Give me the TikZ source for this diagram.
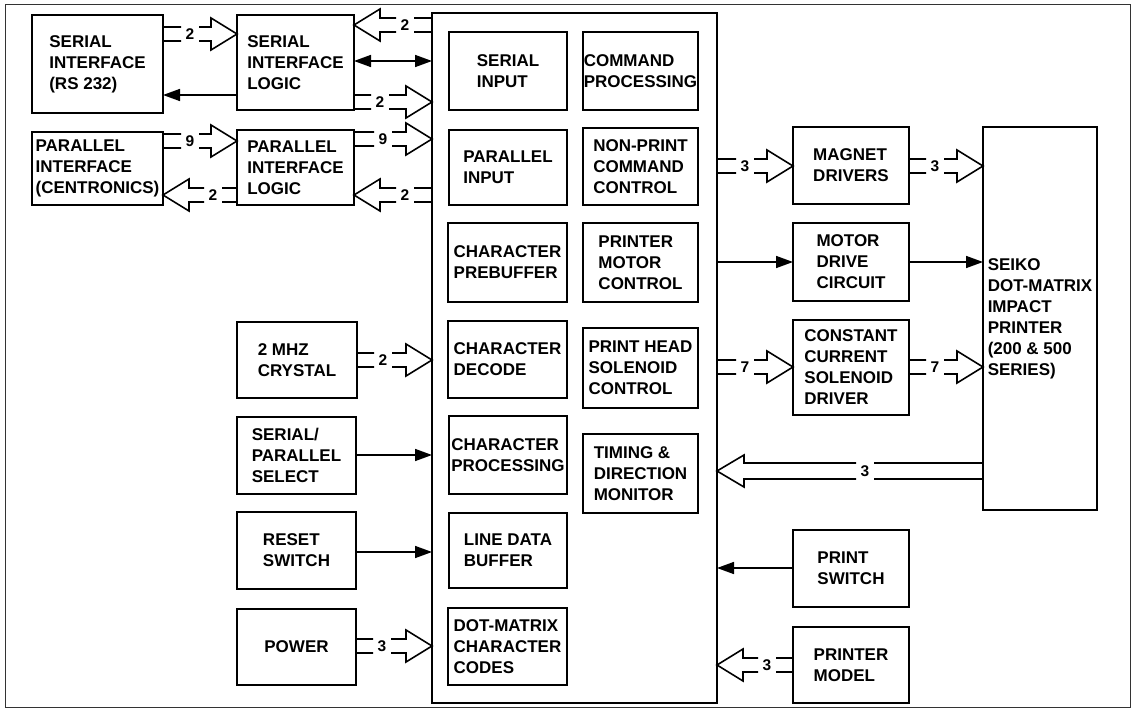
\documentclass[tikz,border=0pt]{standalone}
\usepackage{fontspec}
\setmainfont{Liberation Sans}
\usetikzlibrary{arrows.meta,calc}
\def\bh{7}\def\bH{16}\def\bL{26}\def\bg{9}
\tikzset{
 blk/.style={draw, line width=2.3pt, inner sep=0pt, outer sep=0pt, align=left,
   font=\bfseries\fontsize{17}{21}\selectfont},
 bus/.style={line width=1.6pt, line join=miter},
 buslabel/.style={font=\bfseries\fontsize{15.5}{15.5}\selectfont, inner sep=0pt},
 sarrow/.style={line width=1.6pt, -{Triangle[length=17pt,width=12pt]}},
 darrow/.style={line width=1.6pt, {Triangle[length=17pt,width=12pt]}-{Triangle[length=17pt,width=12pt]}},
 frame/.style={line width=1pt, black!80},
}
\newcommand\blk[6]{\node[blk, minimum width={(#4-#2)*1pt}, minimum height={(#5-#3)*1pt}] (#1) at ({(#2+#4)/2},{(#3+#5)/2}) {#6};}
\newcommand\bus[4]{%
 \draw[bus] let \p1=#1, \p2=#2, \n1={ifthenelse(\x2>\x1,1,-1)} in
  (\x1,{\y1+\bh pt}) -- ({#4pt-(\n1)*\bg pt},{\y1+\bh pt})
  (\x1,{\y1-\bh pt}) -- ({#4pt-(\n1)*\bg pt},{\y1-\bh pt})
  ({#4pt+(\n1)*\bg pt},{\y1+\bh pt}) -- ({\x2-(\n1)*\bL pt},{\y1+\bh pt})
   -- ({\x2-(\n1)*\bL pt},{\y1+\bH pt}) -- (\x2,\y1)
   -- ({\x2-(\n1)*\bL pt},{\y1-\bH pt}) -- ({\x2-(\n1)*\bL pt},{\y1-\bh pt})
   -- ({#4pt+(\n1)*\bg pt},{\y1-\bh pt})
  node[buslabel] at ({#4pt},\y1) {#3};%
}
\begin{document}
\begin{tikzpicture}[x=1pt,y=-1pt]
\useasboundingbox (0,0) rectangle (1134,711);
\draw[frame] (5,5) rectangle (1130,707);
% left blocks
\blk{sirs}{32}{15}{163}{113}{SERIAL\\INTERFACE\\(RS 232)}
\blk{sil}{237}{15}{354}{110}{SERIAL\\INTERFACE\\LOGIC}
\blk{pi}{32}{132}{163}{205}{PARALLEL\\INTERFACE\\(CENTRONICS)}
\blk{pil}{237}{130}{354}{205}{PARALLEL\\INTERFACE\\LOGIC}
\blk{xtal}{237}{322}{357}{398}{2 MHZ\\CRYSTAL}
\blk{sps}{237}{417}{356}{494}{SERIAL/\\PARALLEL\\SELECT}
\blk{rst}{237}{512}{356}{589}{RESET\\SWITCH}
\blk{pwr}{237}{609}{356}{685}{POWER}
% main
\blk{main}{432}{13}{717}{703}{}
\blk{sinp}{449}{32}{567}{110}{SERIAL\\INPUT}
\blk{cmd}{583}{32}{698}{110}{COMMAND\\PROCESSING}
\blk{pinp}{449}{130}{567}{205}{PARALLEL\\INPUT}
\blk{npc}{583}{128}{698}{205}{NON-PRINT\\COMMAND\\CONTROL}
\blk{cpb}{448}{223}{567}{302}{CHARACTER\\PREBUFFER}
\blk{pmc}{583}{223}{698}{302}{PRINTER\\MOTOR\\CONTROL}
\blk{cdec}{448}{321}{567}{398}{CHARACTER\\DECODE}
\blk{phs}{583}{328}{698}{408}{PRINT HEAD\\SOLENOID\\CONTROL}
\blk{cproc}{449}{416}{567}{494}{CHARACTER\\PROCESSING}
\blk{tdm}{583}{434}{698}{513}{TIMING \&\\DIRECTION\\MONITOR}
\blk{ldb}{449}{513}{567}{588}{LINE DATA\\BUFFER}
\blk{dmc}{448}{608}{567}{685}{DOT-MATRIX\\CHARACTER\\CODES}
% right
\blk{mag}{793}{127}{909}{204}{MAGNET\\DRIVERS}
\blk{mot}{793}{223}{909}{301}{MOTOR\\DRIVE\\CIRCUIT}
\blk{ccs}{793}{320}{909}{415}{CONSTANT\\CURRENT\\SOLENOID\\DRIVER}
\blk{seiko}{983}{127}{1097}{510}{SEIKO\\DOT-MATRIX\\IMPACT\\PRINTER\\(200 \& 500\\SERIES)}
\blk{psw}{793}{530}{909}{607}{PRINT\\SWITCH}
\blk{pmod}{793}{627}{909}{703}{PRINTER\\MODEL}
% connectors
\bus{(sirs.east|-0,34)}{(sil.west|-0,34)}{2}{190}
\draw[sarrow] (sil.west|-0,95) -- (sirs.east|-0,95);
\bus{(main.west|-0,25)}{(sil.east|-0,25)}{2}{405}
\draw[darrow] (sil.east|-0,61) -- (main.west|-0,61);
\bus{(sil.east|-0,102)}{(main.west|-0,102)}{2}{380}
\bus{(pi.east|-0,141)}{(pil.west|-0,141)}{9}{190}
\bus{(pil.west|-0,195)}{(pi.east|-0,195)}{2}{213}
\bus{(pil.east|-0,139)}{(main.west|-0,139)}{9}{383}
\bus{(main.west|-0,195)}{(pil.east|-0,195)}{2}{405}
\bus{(xtal.east|-0,360)}{(main.west|-0,360)}{2}{383}
\draw[sarrow] (sps.east|-0,455) -- (main.west|-0,455);
\draw[sarrow] (rst.east|-0,552) -- (main.west|-0,552);
\bus{(pwr.east|-0,646)}{(main.west|-0,646)}{3}{382}
\bus{(main.east|-0,166)}{(mag.west|-0,166)}{3}{745}
\bus{(mag.east|-0,166)}{(seiko.west|-0,166)}{3}{935}
\draw[sarrow] (main.east|-0,262) -- (mot.west|-0,262);
\draw[sarrow] (mot.east|-0,262) -- (seiko.west|-0,262);
\bus{(main.east|-0,367)}{(ccs.west|-0,367)}{7}{745}
\bus{(ccs.east|-0,367)}{(seiko.west|-0,367)}{7}{935}
{\def\bh{8}\def\bL{27}\bus{(seiko.west|-0,471)}{(main.east|-0,471)}{3}{865}}
\draw[sarrow] (psw.west|-0,568) -- (main.east|-0,568);
\bus{(pmod.west|-0,665)}{(main.east|-0,665)}{3}{767}
\end{tikzpicture}
\end{document}
